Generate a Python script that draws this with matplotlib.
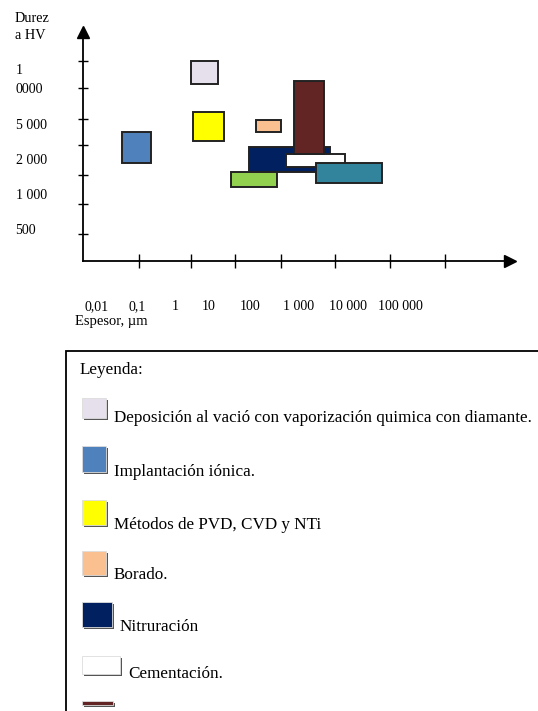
import matplotlib.pyplot as plt
from matplotlib.patches import Rectangle
import numpy as np

plt.rcParams['font.family'] = ['Liberation Serif', 'DejaVu Serif']

# procesos (orden de la leyenda)
procesos = ['Deposición al vació con vaporización quimica con diamante.',
            'Implantación iónica.',
            'Métodos de PVD, CVD y NTi',
            'Borado.',
            'Nitruración',
            'Cementación.',
            None, None, None]
colores = ['#E6E0EC', '#4F81BD', '#FFFF00', '#FAC090', '#002060',
           '#FFFFFF', '#632523', '#92D050', '#31849B']

# espesor en micras (min, max)
esp_min = [2.38, 0.058, 2.65, 78.5, 53.8, 394, 607, 20.5, 1982]
esp_max = [10.2, 0.277, 14.0, 301, 4207, 9419, 3048, 243, 69000]
# dureza en niveles de la escala (0=500, 1=1000, 2=2000, 3=5000, 4=10000)
dur_min = [4.17, 1.91, 2.54, 2.80, 1.66, 1.80, 2.17, 1.23, 1.34]
dur_max = [4.83, 2.80, 3.37, 3.14, 2.37, 2.17, 4.26, 1.66, 1.91]

# escalas
x_labels = ['0,01', '0,1', '1', '10', '100', '1 000', '10 000', '100 000']
x_label_pos = [-1.84, -0.89, 0.0, 0.80, 1.76, 2.88, 4.04, 5.26]
x_marks = [-0.84, 0.376, 1.40, 2.48, 3.74, 5.03, 6.31]
y_labels = ['500', '1 000', '2 000', '5 000', '1\n0000']
y_label_pos = [0, 1, 2, 3, 4.29]
y_marks = [4.83, 4.06, 3.17, 2.43, 1.57, 0.74, -0.11]

W, H = 538, 711
fig = plt.figure(figsize=(W / 100, H / 100), dpi=100)

# capa de fondo en pixeles para leyenda y rotulos
lax = fig.add_axes([0, 0, 1, 1])
lax.set_xlim(0, W)
lax.set_ylim(H, 0)
lax.axis('off')

ax = fig.add_axes([83 / W, (H - 261) / H, 427 / W, 229 / H])
ax.set_xlim(-2.147, 7.83)
ax.set_ylim(-0.886, 5.66)
ax.patch.set_alpha(0)
for s in ['top', 'right']:
    ax.spines[s].set_visible(False)
for s in ['left', 'bottom']:
    ax.spines[s].set_linewidth(1.3)
ax.plot(1, 0, marker='>', color='k', ms=8, transform=ax.transAxes, clip_on=False)
ax.plot(0, 1, marker='^', color='k', ms=8, transform=ax.transAxes, clip_on=False)

ax.set_xticks(x_marks)
ax.tick_params(axis='x', which='major', direction='inout', length=10, width=1,
               labelbottom=False)
ax.set_xticks(x_label_pos, x_labels, minor=True)
ax.tick_params(axis='x', which='minor', length=0, pad=28, labelsize=10)
ax.set_yticks(y_marks)
ax.tick_params(axis='y', which='major', direction='inout', length=7, width=1,
               labelleft=False)
for lab, pos in zip(y_labels, y_label_pos):
    ax.text(-0.158, pos, lab, transform=ax.get_yaxis_transform(),
            ha='left', va='center', fontsize=10, linespacing=1.6)

lx = np.log10(esp_min)
ux = np.log10(esp_max)
for i in range(len(colores)):
    ax.add_patch(Rectangle((lx[i], dur_min[i]), ux[i] - lx[i], dur_max[i] - dur_min[i],
                           facecolor=colores[i], edgecolor='#222222', lw=1.4))

lax.text(15, 27, 'Durez\na HV', ha='left', va='center', fontsize=10.3, linespacing=1.35)
lax.text(75, 322, 'Espesor, µm', ha='left', va='center', fontsize=10.5)

# leyenda
lax.add_patch(Rectangle((66, 351), 600, 500, facecolor='white', edgecolor='black', lw=1.3))
lax.text(80, 370, 'Leyenda:', ha='left', va='center', fontsize=12.3)
sw_top = [398, 446, 500, 551, 602, 656, 701]
sw_w = [24, 24, 24, 24, 30, 38, 31]
sw_h = [20, 26, 25, 24, 25, 18, 4]
for i in range(7):
    top = sw_top[i]
    lax.add_patch(Rectangle((84, top + 2), sw_w[i], sw_h[i], facecolor='#555555', lw=0))
    lax.add_patch(Rectangle((82, top), sw_w[i], sw_h[i], facecolor=colores[i],
                            edgecolor='#DDDDDD', lw=0.6))
    if procesos[i]:
        lax.text(82 + sw_w[i] + 8, top + sw_h[i], procesos[i], ha='left', va='center',
                 fontsize=12.3)

fig.savefig('out.png', dpi=100)
